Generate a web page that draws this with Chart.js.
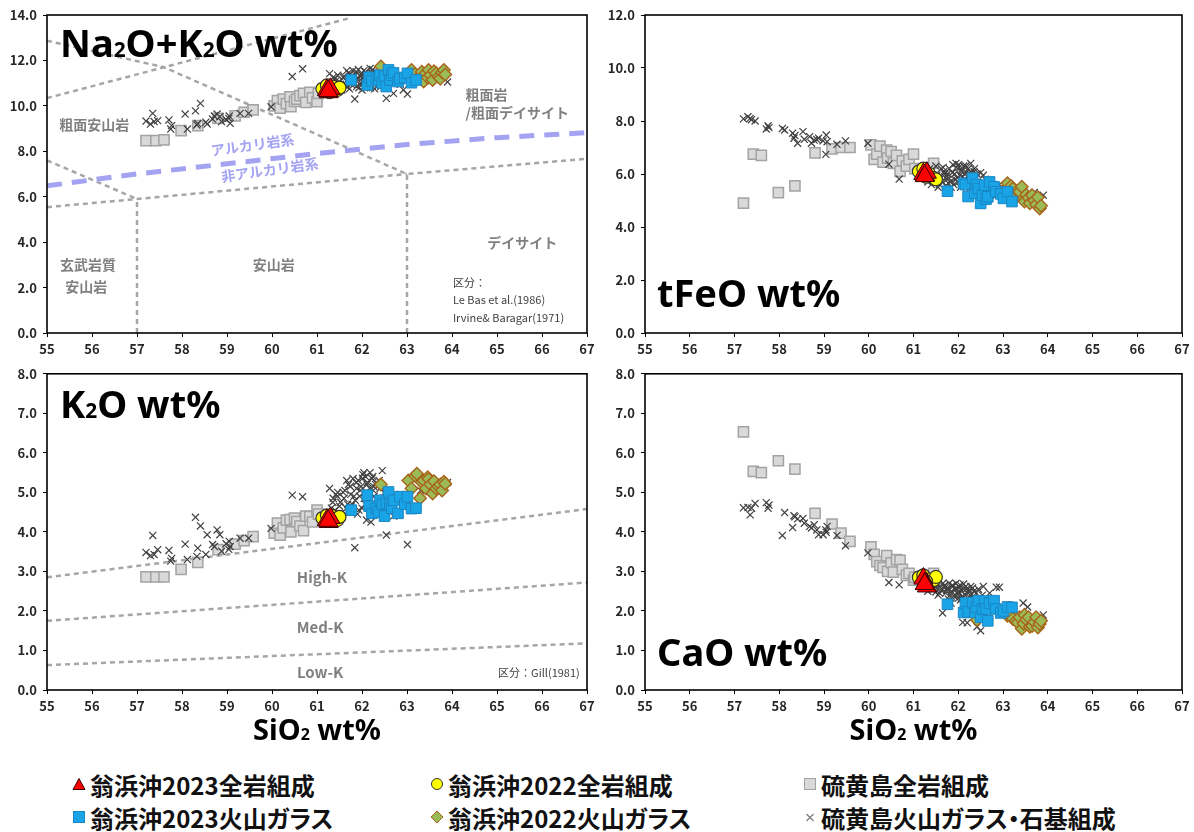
<!DOCTYPE html>
<html lang="ja">
<head>
<meta charset="utf-8">
<title>SiO2 variation diagrams</title>
<script src="https://cdn.jsdelivr.net/npm/chart.js@4/dist/chart.umd.min.js"></script>
<style>
  html, body { margin: 0; padding: 0; background: #fff; }
  body { width: 1194px; height: 832px; position: relative; overflow: hidden;
         font-family: "Noto Sans CJK JP", "Noto Sans", sans-serif; }
  .panel { position: absolute; }
  .lg { position: absolute; display: flex; align-items: center; height: 30px;
        transform: translateY(-50%); white-space: nowrap;
        font-family: "Noto Sans CJK JP", sans-serif; font-weight: 700; font-size: 24px;
        color: #111; font-feature-settings: "palt"; }
  .lg svg { margin-right: 4px; flex: none; }
</style>
</head>
<body>
<canvas id="pNaK" class="panel" width="600" height="362" style="left:0;top:0"></canvas>
<canvas id="pFeO" class="panel" width="594" height="362" style="left:600px;top:0"></canvas>
<canvas id="pK2O" class="panel" width="600" height="392" style="left:0;top:360px"></canvas>
<canvas id="pCaO" class="panel" width="594" height="392" style="left:600px;top:360px"></canvas>
<div id="legend"></div>

<script>
// ---- Sample data: SiO2 (wt%) and the plotted oxides (wt%) for each group ----

// 翁浜沖2023 whole rock
const oh2023WR_SiO2 = [61.22, 61.26, 61.30, 61.25];
const oh2023WR_NaK  = [10.70, 10.60, 10.75, 10.65];
const oh2023WR_FeO  = [6.00, 5.95, 6.05, 5.92];
const oh2023WR_K2O  = [4.30, 4.25, 4.35, 4.28];
const oh2023WR_CaO  = [2.82, 2.70, 2.62, 2.68];

// 翁浜沖2022 whole rock
const oh2022WR_SiO2 = [61.12, 61.22, 61.35, 61.45, 61.50, 61.28];
const oh2022WR_NaK  = [10.75, 10.90, 10.85, 10.70, 10.80, 10.60];
const oh2022WR_FeO  = [6.10, 6.20, 6.00, 5.85, 5.80, 5.90];
const oh2022WR_K2O  = [4.35, 4.42, 4.40, 4.30, 4.38, 4.28];
const oh2022WR_CaO  = [2.85, 2.90, 2.80, 2.78, 2.86, 2.75];

// 翁浜沖2023 volcanic glass
const oh2023GL_SiO2 = [61.76, 62.12, 62.16, 62.22, 62.32, 62.37, 62.40, 62.45, 62.50, 62.54,
                       62.59, 62.62, 62.66, 62.70, 62.80, 62.84, 62.95, 63.01, 63.10, 63.20];
const oh2023GL_NaK  = [11.14, 10.92, 11.26, 11.10, 11.20, 11.14, 11.35, 11.00, 11.30, 10.85,
                       11.58, 11.14, 11.35, 11.45, 11.07, 11.20, 11.25, 11.43, 11.02, 11.14];
const oh2023GL_FeO  = [5.35, 5.65, 5.60, 5.15, 5.84, 5.27, 5.60, 5.45, 4.89, 5.20,
                       5.58, 5.05, 5.14, 5.70, 5.52, 5.33, 5.25, 5.08, 5.33, 4.96];
const oh2023GL_K2O  = [4.55, 4.93, 4.65, 4.47, 4.59, 4.50, 4.80, 4.70, 4.40, 4.72,
                       5.01, 4.68, 4.60, 4.80, 4.47, 4.89, 4.70, 4.89, 4.59, 4.60];
const oh2023GL_CaO  = [2.17, 1.96, 2.20, 1.98, 2.21, 1.96, 2.10, 2.26, 1.84, 2.05,
                       2.25, 2.05, 1.75, 2.20, 2.26, 2.05, 1.95, 2.00, 2.10, 2.09];

// 翁浜沖2022 volcanic glass
const oh2022GL_SiO2 = [62.42, 63.03, 63.10, 63.18, 63.22, 63.29, 63.33, 63.37, 63.42, 63.46,
                       63.48, 63.52, 63.57, 63.60, 63.65, 63.70, 63.74, 63.78, 63.82, 63.85];
const oh2022GL_NaK  = [11.73, 11.35, 11.58, 11.40, 11.20, 11.29, 11.50, 11.07, 11.45, 11.25,
                       11.58, 11.35, 11.14, 11.52, 11.43, 11.28, 11.20, 11.48, 11.58, 11.38];
const oh2022GL_FeO  = [5.45, 5.40, 5.65, 5.55, 5.45, 5.14, 5.35, 5.33, 5.52, 5.05,
                       4.96, 5.22, 5.10, 4.90, 5.20, 5.00, 4.85, 5.12, 4.70, 4.80];
const oh2022GL_K2O  = [5.20, 5.30, 5.10, 5.42, 5.47, 4.85, 5.25, 5.30, 5.10, 5.38,
                       5.34, 5.20, 4.97, 5.28, 5.10, 5.15, 5.20, 5.05, 5.27, 5.22];
const oh2022GL_CaO  = [1.77, 2.00, 1.88, 1.95, 1.80, 1.75, 1.70, 1.84, 1.55, 1.68,
                       1.90, 1.78, 1.84, 1.60, 1.62, 1.72, 1.84, 1.58, 1.67, 1.75];

// 硫黄島 whole rock
const iwoWR_SiO2 = [57.20, 57.42, 57.60, 57.98, 58.35, 58.80, 59.18, 59.38, 59.58, 60.05,
                    60.12, 60.18, 60.25, 60.32, 60.40, 60.42, 60.50, 60.55, 60.62, 60.70,
                    60.75, 60.84, 60.90, 61.00, 61.03, 61.45];
const iwoWR_NaK  = [8.47, 8.47, 8.50, 8.91, 9.13, 9.45, 9.56, 9.72, 9.82, 10.00,
                    10.23, 9.90, 10.30, 10.10, 10.40, 9.96, 10.20, 10.29, 10.45, 10.55,
                    10.15, 10.60, 10.35, 10.19, 10.55, 10.75];
const iwoWR_FeO  = [4.90, 6.75, 6.70, 5.30, 5.55, 6.80, 6.95, 7.00, 7.00, 7.10,
                    6.55, 6.75, 7.05, 6.45, 6.90, 6.60, 6.85, 6.40, 6.70, 6.10,
                    6.50, 6.30, 6.55, 6.75, 6.20, 6.40];
const iwoWR_K2O  = [2.86, 2.86, 2.86, 3.05, 3.23, 3.55, 3.69, 3.78, 3.88, 3.97,
                    4.22, 3.92, 4.10, 4.30, 4.31, 4.00, 4.35, 4.26, 4.15, 4.03,
                    4.40, 4.39, 4.25, 4.55, 4.45, 4.40];
const iwoWR_CaO  = [6.53, 5.53, 5.50, 5.80, 5.59, 4.47, 4.20, 3.97, 3.76, 3.62,
                    3.43, 3.25, 3.15, 3.10, 3.40, 3.00, 3.22, 2.98, 3.30, 3.28,
                    3.05, 2.90, 2.95, 2.78, 2.85, 2.95];

// 硫黄島 volcanic glass and groundmass
const iwoGL_SiO2 = [57.20, 57.30, 57.35, 57.38, 57.46, 57.71, 57.75, 57.77, 58.07, 58.12,
                    58.30, 58.33, 58.35, 58.41, 58.53, 58.56, 58.68, 58.72, 58.78, 58.84,
                    58.88, 58.98, 59.05, 59.07, 59.04, 59.29, 59.48, 59.98, 60.45, 60.68,
                    61.28, 61.35, 61.40, 61.45, 61.50, 61.55, 61.60, 61.62, 61.65, 61.70,
                    61.72, 61.75, 61.78, 61.80, 61.84, 61.85, 61.88, 61.90, 61.92, 61.95,
                    61.98, 62.00, 62.02, 62.05, 62.08, 62.10, 62.12, 62.15, 62.18, 62.20,
                    62.22, 62.25, 62.28, 62.30, 62.35, 62.38, 62.42, 62.45, 62.50, 62.54,
                    62.60, 62.70, 62.85, 62.92, 63.01, 63.30, 63.45, 63.55, 63.70, 63.90,
                    61.32, 61.42, 61.52, 61.58, 61.68, 61.74, 61.82, 61.87, 61.93, 61.96,
                    62.01, 62.04, 62.07, 62.11, 62.14, 62.17, 62.19, 62.24, 62.27, 62.32,
                    62.36, 62.40, 62.48, 62.56, 61.36, 61.46, 61.66, 61.76, 62.09, 62.26];
const iwoGL_NaK  = [9.33, 9.20, 9.67, 9.31, 9.35, 9.38, 8.98, 9.13, 9.64, 8.98,
                    9.78, 9.16, 9.22, 10.11, 9.28, 9.20, 9.42, 9.55, 9.64, 9.52,
                    9.31, 9.40, 9.55, 9.23, 9.45, 9.67, 9.67, 9.96, 11.29, 11.63,
                    11.42, 10.95, 11.20, 10.80, 11.05, 10.70, 11.30, 10.90, 11.10, 11.45,
                    10.75, 11.20, 11.00, 11.55, 10.30, 11.35, 10.85, 11.15, 11.60, 10.95,
                    11.40, 10.70, 11.25, 11.05, 11.50, 10.80, 11.30, 11.10, 11.65, 10.90,
                    11.45, 11.20, 10.75, 11.35, 11.00, 11.55, 10.85, 11.25, 11.40, 10.33,
                    11.10, 10.55, 10.95, 10.70, 10.52, 11.20, 11.35, 11.10, 11.30, 11.05,
                    10.85, 11.10, 10.95, 11.25, 10.85, 11.40, 11.05, 11.50, 10.80, 11.30,
                    11.05, 11.55, 10.90, 11.40, 11.00, 11.25, 10.80, 11.60, 11.10, 11.45,
                    10.90, 11.30, 11.15, 11.35, 11.25, 11.35, 11.55, 10.95, 11.20, 11.35];
const iwoGL_FeO  = [8.08, 8.16, 8.10, 8.05, 8.00, 7.70, 7.82, 7.75, 7.72, 7.66,
                    7.54, 7.35, 7.45, 7.16, 7.60, 7.31, 7.41, 7.16, 7.28, 7.30,
                    7.35, 7.25, 7.47, 7.22, 6.74, 7.12, 7.25, 7.16, 6.37, 5.81,
                    6.10, 6.00, 5.60, 5.80, 6.30, 5.50, 5.90, 6.20, 5.70, 6.00,
                    5.55, 5.80, 5.65, 6.20, 5.50, 5.75, 6.35, 5.60, 6.00, 6.40,
                    5.85, 5.70, 6.25, 5.50, 6.10, 5.90, 6.30, 5.75, 6.05, 5.60,
                    6.20, 5.45, 6.40, 5.80, 6.10, 5.65, 6.00, 5.50, 6.05, 5.30,
                    5.80, 5.40, 5.20, 5.60, 5.10, 5.30, 5.40, 5.00, 5.30, 5.20,
                    5.70, 6.15, 5.95, 5.60, 6.10, 5.90, 5.70, 6.05, 5.80, 6.25,
                    6.35, 5.95, 6.15, 5.65, 6.00, 6.30, 5.55, 5.95, 6.10, 5.70,
                    6.20, 5.85, 5.60, 5.95, 6.20, 5.75, 6.25, 6.00, 5.75, 6.00];
const iwoGL_K2O  = [3.48, 3.40, 3.91, 3.43, 3.55, 3.53, 3.26, 3.33, 3.69, 3.30,
                    4.37, 3.38, 3.59, 4.15, 3.43, 3.93, 3.68, 3.63, 4.05, 3.93,
                    3.51, 3.70, 3.76, 3.63, 3.56, 3.84, 3.84, 4.09, 4.93, 4.89,
                    5.10, 4.75, 4.55, 4.90, 4.65, 4.40, 4.85, 5.05, 4.60, 5.20,
                    4.50, 4.95, 4.70, 5.35, 3.60, 4.80, 5.10, 4.45, 5.30, 4.90,
                    5.15, 4.60, 5.45, 4.85, 5.40, 4.30, 5.25, 4.95, 5.50, 4.25,
                    5.35, 5.05, 4.70, 5.20, 4.50, 5.30, 4.80, 5.55, 5.00, 3.92,
                    4.60, 4.40, 4.95, 4.85, 3.68, 5.05, 5.25, 5.10, 5.20, 5.25,
                    4.60, 4.95, 4.75, 5.00, 4.70, 5.15, 4.90, 5.25, 4.55, 5.05,
                    5.35, 5.50, 4.70, 5.20, 4.80, 5.10, 4.55, 5.40, 4.90, 5.25,
                    4.65, 5.10, 4.85, 5.05, 4.85, 5.00, 5.30, 4.65, 5.00, 5.15];
const iwoGL_CaO  = [4.61, 4.62, 4.43, 4.60, 4.72, 4.74, 4.60, 4.68, 3.91, 4.49,
                    4.11, 4.41, 4.38, 4.33, 4.34, 4.22, 4.14, 4.10, 4.18, 4.05,
                    3.93, 3.93, 3.99, 4.14, 4.05, 3.91, 3.65, 3.47, 2.72, 2.66,
                    2.75, 2.62, 2.55, 2.70, 2.48, 2.40, 2.60, 2.52, 1.95, 2.65,
                    2.45, 2.58, 2.30, 2.70, 2.20, 2.50, 2.62, 2.38, 2.55, 2.70,
                    2.44, 2.32, 2.60, 2.28, 2.50, 1.71, 2.68, 2.22, 2.55, 1.70,
                    2.45, 2.35, 2.62, 2.05, 2.50, 2.30, 1.60, 2.55, 1.50, 2.40,
                    2.20, 2.45, 2.60, 2.60, 2.00, 1.85, 2.20, 2.10, 1.70, 1.90,
                    2.50, 2.68, 2.58, 2.45, 2.62, 2.52, 2.40, 2.65, 2.35, 2.58,
                    2.48, 2.66, 2.30, 2.56, 2.42, 2.62, 2.25, 2.50, 2.40, 2.58,
                    2.35, 2.45, 2.30, 2.62, 2.72, 2.56, 2.70, 2.55, 2.36, 2.52];

// ---- Classification boundaries ----
// Le Bas et al. (1986) TAS fields, shown between 55 and 67 wt% SiO2
const tasBoundaries = [
  [[55, 10.34], [57.6, 11.7], [61.7, 13.85]],
  [[55, 12.87], [57.6, 11.7], [63, 7.0], [67, 7.67]],
  [[55, 7.6], [57, 5.9]],
  [[55, 5.54], [57, 5.9], [63, 7.0]],
  [[57, 0], [57, 5.9]],
  [[63, 0], [63, 7.0]]
];
// Irvine & Baragar (1971) alkaline / subalkaline divide
const alkalineDivide = [[55, 6.48], [57, 7.0], [59, 7.45], [61, 7.9], [63, 8.3], [65, 8.6], [67, 8.82]];
// Gill (1981) K2O series boundaries
const gillBoundaries = [
  [[55, 2.85], [67, 4.58]],
  [[55, 1.75], [67, 2.72]],
  [[55, 0.63], [67, 1.18]]
];

// ---- Groups (first entry is drawn on top) ----
const groups = [
  { label: '翁浜沖2023全岩組成', slot: 0, SiO2: oh2023WR_SiO2, NaK: oh2023WR_NaK, FeO: oh2023WR_FeO, K2O: oh2023WR_K2O, CaO: oh2023WR_CaO,
    style: { shape: 'triangle', r: 11, fill: '#ff0000', line: '#3a0000', lw: 1 } },
  { label: '翁浜沖2022全岩組成', slot: 1, SiO2: oh2022WR_SiO2, NaK: oh2022WR_NaK, FeO: oh2022WR_FeO, K2O: oh2022WR_K2O, CaO: oh2022WR_CaO,
    style: { shape: 'circle', r: 6.5, fill: '#ffff00', line: '#333333', lw: 1.2 } },
  { label: '翁浜沖2023火山ガラス', slot: 3, SiO2: oh2023GL_SiO2, NaK: oh2023GL_NaK, FeO: oh2023GL_FeO, K2O: oh2023GL_K2O, CaO: oh2023GL_CaO,
    style: { shape: 'rect', r: 7.5, fill: '#18a4e6', line: '#1b86c4', lw: 1 } },
  { label: '翁浜沖2022火山ガラス', slot: 4, SiO2: oh2022GL_SiO2, NaK: oh2022GL_NaK, FeO: oh2022GL_FeO, K2O: oh2022GL_K2O, CaO: oh2022GL_CaO,
    style: { shape: 'rectRot', r: 6.3, fill: '#9bbb59', line: '#a8651a', lw: 1.4 } },
  { label: '硫黄島火山ガラス・石基組成', slot: 5, SiO2: iwoGL_SiO2, NaK: iwoGL_NaK, FeO: iwoGL_FeO, K2O: iwoGL_K2O, CaO: iwoGL_CaO,
    style: { shape: 'crossRot', r: 5, fill: '#404040', line: '#404040', lw: 1.2 } },
  { label: '硫黄島全岩組成', slot: 2, SiO2: iwoWR_SiO2, NaK: iwoWR_NaK, FeO: iwoWR_FeO, K2O: iwoWR_K2O, CaO: iwoWR_CaO,
    style: { shape: 'rect', r: 7.2, fill: '#d9d9d9', line: '#a3a3a3', lw: 1.5 } }
];

// ---- Drawing helpers ----
const GRAY_LINE = '#a6a6a6';
const LAVENDER = '#a3a3f2';
const TICK_FONT = { family: '"Noto Sans CJK JP", sans-serif', weight: 'bold', size: 13 };

function groupSets(key) {
  return groups.map(g => ({
    label: g.label,
    data: g.SiO2.map((x, i) => ({ x, y: g[key][i] })),
    pointStyle: g.style.shape,
    pointRadius: g.style.r,
    pointHoverRadius: g.style.r,
    backgroundColor: g.style.fill,
    borderColor: g.style.line,
    borderWidth: g.style.lw,
    showLine: false
  }));
}

function lineSet(points, color, width, dash) {
  return {
    data: points.map(([x, y]) => ({ x, y })),
    showLine: true, tension: 0, pointRadius: 0, pointHoverRadius: 0,
    borderColor: color, borderWidth: width, borderDash: dash,
    backgroundColor: 'transparent', fill: false
  };
}

// Text made of normal and subscript runs, e.g. [['Na'], ['2', true], ['O']]
function drawRich(ctx, runs, x, y, size, align) {
  const font = s => `bold ${s}px "Noto Sans", "Noto Sans CJK JP", sans-serif`;
  const widths = runs.map(([t, sub]) => { ctx.font = font(sub ? size * 0.55 : size); return ctx.measureText(t).width; });
  const total = widths.reduce((a, b) => a + b, 0);
  let cx = align === 'center' ? x - total / 2 : x;
  runs.forEach(([t, sub], i) => {
    ctx.font = font(sub ? size * 0.55 : size);
    ctx.fillText(t, cx, y);
    cx += widths[i];
  });
}

const framePlugin = {
  id: 'frame',
  afterDatasetsDraw(chart) {
    const { ctx, chartArea: a } = chart;
    ctx.save();
    ctx.strokeStyle = '#000';
    ctx.lineWidth = 1.6;
    ctx.strokeRect(a.left, a.top, a.right - a.left, a.bottom - a.top);
    ctx.restore();
  }
};

const textPlugin = {
  id: 'panelText',
  afterDraw(chart, args, opts) {
    const { ctx, chartArea: a, scales: { x, y } } = chart;
    ctx.save();
    ctx.textBaseline = 'alphabetic';
    ctx.fillStyle = '#000';
    ctx.textAlign = 'left';
    drawRich(ctx, opts.title, a.left + opts.titleDx, a.top + opts.titleDy, 38, 'left');
    if (opts.axisTitle) {
      drawRich(ctx, [['SiO'], ['2', true], [' wt%']], (a.left + a.right) / 2, a.bottom + 50, 29, 'center');
    }
    ctx.textBaseline = 'middle';
    (opts.notes || []).forEach(n => {
      ctx.save();
      ctx.translate(x.getPixelForValue(n.x), y.getPixelForValue(n.y));
      if (n.rot) ctx.rotate(n.rot * Math.PI / 180);
      ctx.font = n.font;
      ctx.fillStyle = n.color;
      ctx.textAlign = n.align || 'center';
      ctx.fillText(n.text, 0, 0);
      ctx.restore();
    });
    ctx.restore();
  }
};

const NOTE_FONT = 'bold 14px "Noto Sans CJK JP", sans-serif';
const SMALL_FONT = '11px "Noto Sans CJK JP", sans-serif';
const NOTE_GRAY = '#808080';
const SMALL_GRAY = '#404040';

function makePanel(id, cfg) {
  const canvas = document.getElementById(id);
  const H = canvas.height;
  const datasets = groupSets(cfg.key).concat(cfg.lines || []);
  return new Chart(canvas, {
    type: 'scatter',
    data: { datasets },
    options: {
      responsive: false,
      animation: false,
      devicePixelRatio: 1,
      events: [],
      layout: { padding: { left: 0, top: cfg.top, right: canvas.width - cfg.right, bottom: 0 } },
      plugins: {
        legend: { display: false },
        tooltip: { enabled: false },
        panelText: cfg.text
      },
      scales: {
        x: {
          type: 'linear', min: 55, max: 67,
          ticks: { stepSize: 1, font: TICK_FONT, color: '#262626', padding: 4, maxRotation: 0 },
          grid: { drawOnChartArea: false, drawTicks: true, tickLength: 4, color: '#000' },
          border: { display: false },
          afterFit: s => { s.height = H - cfg.bottom; }
        },
        y: {
          type: 'linear', min: 0, max: cfg.yMax,
          ticks: { stepSize: cfg.yStep, font: TICK_FONT, color: '#262626', padding: 6,
                   callback: v => v.toFixed(1) },
          grid: { drawOnChartArea: false, drawTicks: true, tickLength: 4, color: '#000' },
          border: { display: false },
          afterFit: s => { s.width = cfg.left; }
        }
      }
    },
    plugins: [framePlugin, textPlugin]
  });
}

// ---- Panels ----
const dashGray = [5, 4];

makePanel('pNaK', {
  key: 'NaK', yMax: 14, yStep: 2, left: 47, right: 587, top: 15, bottom: 333,
  lines: [lineSet(alkalineDivide, LAVENDER, 5, [15, 10])]
          .concat(tasBoundaries.map(p => lineSet(p, GRAY_LINE, 2.5, dashGray))),
  text: {
    title: [['Na'], ['2', true], ['O+K'], ['2', true], ['O wt%']], titleDx: 13, titleDy: 42,
    notes: [
      { text: '粗面安山岩', x: 56.05, y: 9.16, font: NOTE_FONT, color: NOTE_GRAY },
      { text: '粗面岩', x: 64.3, y: 10.48, font: NOTE_FONT, color: NOTE_GRAY, align: 'left' },
      { text: '/粗面デイサイト', x: 64.3, y: 9.69, font: NOTE_FONT, color: NOTE_GRAY, align: 'left' },
      { text: 'アルカリ岩系', x: 59.57, y: 8.28, font: NOTE_FONT, color: LAVENDER, rot: -8 },
      { text: '非アルカリ岩系', x: 59.95, y: 7.18, font: NOTE_FONT, color: LAVENDER, rot: -8 },
      { text: 'デイサイト', x: 65.56, y: 3.96, font: NOTE_FONT, color: NOTE_GRAY },
      { text: '安山岩', x: 60.04, y: 2.99, font: NOTE_FONT, color: NOTE_GRAY },
      { text: '玄武岩質', x: 55.91, y: 2.99, font: NOTE_FONT, color: NOTE_GRAY },
      { text: '安山岩', x: 55.87, y: 2.03, font: NOTE_FONT, color: NOTE_GRAY },
      { text: '区分：', x: 64.02, y: 2.2, font: SMALL_FONT, color: SMALL_GRAY, align: 'left' },
      { text: 'Le Bas et al.(1986)', x: 64.02, y: 1.45, font: SMALL_FONT, color: SMALL_GRAY, align: 'left' },
      { text: 'Irvine& Baragar(1971)', x: 64.02, y: 0.66, font: SMALL_FONT, color: SMALL_GRAY, align: 'left' }
    ]
  }
});

makePanel('pFeO', {
  key: 'FeO', yMax: 12, yStep: 2, left: 45, right: 583, top: 15, bottom: 333,
  text: { title: [['tFeO wt%']], titleDx: 12, titleDy: 292 }
});

makePanel('pK2O', {
  key: 'K2O', yMax: 8, yStep: 1, left: 47, right: 587, top: 11, bottom: 330,
  lines: gillBoundaries.map(p => lineSet(p, GRAY_LINE, 2.5, dashGray)),
  text: {
    title: [['K'], ['2', true], ['O wt%']], titleDx: 13, titleDy: 44, axisTitle: true,
    notes: [
      { text: 'High-K', x: 61.11, y: 2.86, font: 'bold 15px "Noto Sans CJK JP", sans-serif', color: NOTE_GRAY },
      { text: 'Med-K', x: 61.07, y: 1.58, font: 'bold 15px "Noto Sans CJK JP", sans-serif', color: NOTE_GRAY },
      { text: 'Low-K', x: 61.07, y: 0.45, font: 'bold 15px "Noto Sans CJK JP", sans-serif', color: NOTE_GRAY },
      { text: '区分：Gill(1981)', x: 66.84, y: 0.43, font: SMALL_FONT, color: SMALL_GRAY, align: 'right' }
    ]
  }
});

makePanel('pCaO', {
  key: 'CaO', yMax: 8, yStep: 1, left: 45, right: 583, top: 11, bottom: 330,
  text: { title: [['CaO wt%']], titleDx: 12, titleDy: 292, axisTitle: true }
});

// ---- Legend ----
const legendSlots = [[72, 784], [430, 784], [803, 784], [72, 817], [430, 817], [803, 817]];
function markerSvg(s) {
  const a = `fill="${s.fill}" stroke="${s.line}" stroke-width="1"`;
  let body;
  switch (s.shape) {
    case 'triangle': body = `<polygon points="7,1.5 13,12.5 1,12.5" ${a}/>`; break;
    case 'circle':   body = `<circle cx="7" cy="7" r="5.5" ${a}/>`; break;
    case 'rectRot':  body = `<polygon points="7,1 13,7 7,13 1,7" ${a}/>`; break;
    case 'crossRot': body = `<path d="M3.5 4 L10.5 11 M10.5 4 L3.5 11" stroke="#777" stroke-width="1.1" fill="none"/>`; break;
    default:         body = `<rect x="1.5" y="1.5" width="11" height="11" ${a}/>`;
  }
  return `<svg width="14" height="14" viewBox="0 0 14 14">${body}</svg>`;
}
const legend = document.getElementById('legend');
groups.forEach(g => {
  const [lx, ly] = legendSlots[g.slot];
  const el = document.createElement('div');
  el.className = 'lg';
  el.style.left = lx + 'px';
  el.style.top = ly + 'px';
  el.innerHTML = markerSvg(g.style) + '<span>' + g.label + '</span>';
  legend.appendChild(el);
});
</script>
</body>
</html>
